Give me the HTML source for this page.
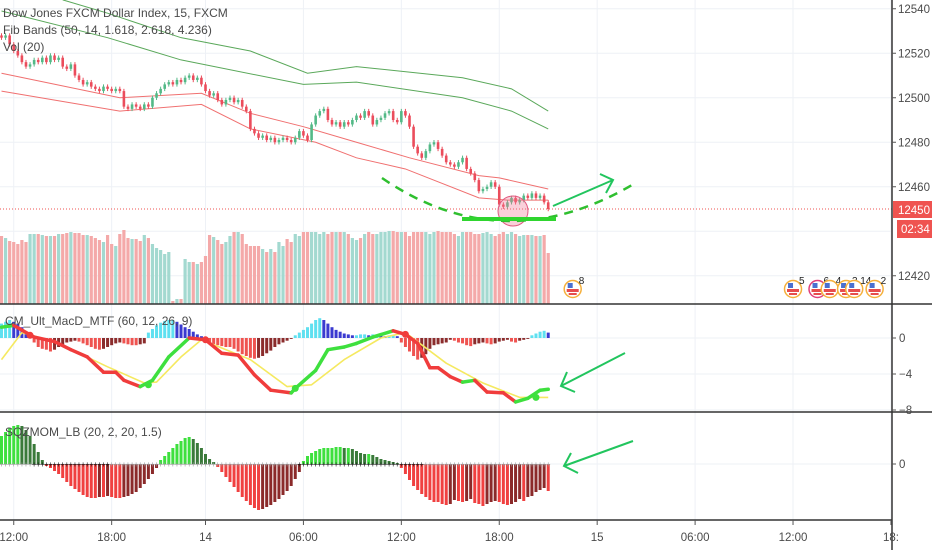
<!DOCTYPE html>
<html><head><meta charset="utf-8"><style>
html,body{margin:0;padding:0;background:#fff;}
svg{display:block;font-family:"Liberation Sans",sans-serif;}
</style></head><body>
<svg id="c" width="932" height="550" viewBox="0 0 932 550" xmlns="http://www.w3.org/2000/svg">
<rect x="0" y="0" width="932" height="550" fill="#ffffff"/>
<g id="grid"></g>
<g id="bands"></g>
<g id="vol"></g>
<g id="candles"></g>
<g id="hist"></g>
<g id="macd"></g>
<g id="sqz"></g>
<g id="anno">
  <line x1="0" y1="209" x2="892" y2="209" stroke="#ef5350" stroke-width="1" stroke-dasharray="1,2"/>
  <circle cx="513" cy="211" r="15" fill="rgba(240,120,150,0.35)" stroke="#e05a80" stroke-width="1"/>
  <path d="M382,178 Q505,262 637,182" fill="none" stroke="#2fbf2f" stroke-width="2.5" stroke-dasharray="9,7"/>
  <line x1="462" y1="219" x2="556" y2="219" stroke="#2fd52f" stroke-width="4"/>
  <path d="M553,206 L613,180 M600,174 L613,180 L606,193" fill="none" stroke="#22c55e" stroke-width="2"/>
  <path d="M625,353 L561,386 M567,372 L561,386 L575,392" fill="none" stroke="#22c55e" stroke-width="2"/>
  <path d="M633,441 L564,466 M571,453 L564,466 L578,473" fill="none" stroke="#22c55e" stroke-width="2"/>
</g>
<g id="events"></g>
<g>
  <line x1="0" y1="304" x2="932" y2="304" stroke="#333" stroke-width="1.5"/>
  <line x1="0" y1="412" x2="932" y2="412" stroke="#333" stroke-width="1.5"/>
  <line x1="0" y1="520" x2="892" y2="520" stroke="#333" stroke-width="1.5"/>
  <line x1="892" y1="0" x2="892" y2="550" stroke="#333" stroke-width="1.5"/>
</g>
<g id="axes"></g>
<g font-size="12" fill="#4a4a4a">
  <text x="3" y="17">Dow Jones FXCM Dollar Index, 15, FXCM</text>
  <text x="3" y="34">Fib Bands (50, 14, 1.618, 2.618, 4.236)</text>
  <text x="3" y="51">Vol (20)</text>
  <text x="5" y="325">CM_Ult_MacD_MTF (60, 12, 26, 9)</text>
  <text x="5" y="436">SQZMOM_LB (20, 2, 20, 1.5)</text>
</g>
<g>
  <rect x="893" y="201" width="39" height="17" fill="#ef5350"/>
  <text x="898" y="214" font-size="11.5" fill="#fff">12450</text>
  <rect x="897" y="220" width="35" height="18" fill="#ef5350"/>
  <text x="901" y="233" font-size="11.5" fill="#fff">02:34</text>
</g>
</svg>
<script>
// ---- data ----
const closes = [12527,12528,12524,12521,12519,12516,12514,12515,12517,12516,
12518,12516,12519,12517,12518,12514,12513,12515,12510,12508,
12506,12507,12505,12504,12503,12505,12504,12503,12504,12503,
12496,12495,12497,12496,12495,12497,12496,12500,12502,12504,
12506,12507,12506,12508,12507,12509,12510,12508,12509,12506,
12503,12501,12502,12499,12497,12499,12500,12498,12499,12496,
12494,12486,12484,12482,12483,12481,12482,12480,12481,12482,
12481,12480,12482,12485,12483,12481,12488,12492,12494,12495,
12490,12488,12489,12487,12489,12488,12490,12492,12491,12494,
12492,12488,12490,12491,12493,12494,12490,12489,12494,12492,
12487,12478,12475,12473,12476,12479,12480,12477,12474,12471,
12470,12469,12471,12473,12468,12466,12463,12458,12459,12460,
12462,12460,12452,12451,12453,12455,12453,12454,12456,12455,
12457,12455,12456,12453,12450];
const volumes = [68,66,63,62,60,64,62,70,70,70,
69,68,68,68,70,70,71,72,71,71,
69,69,68,66,64,62,69,60,58,70,
74,66,65,65,63,69,66,60,56,54,
50,52,3,5,5,45,42,42,40,42,
48,69,67,64,60,62,68,72,72,70,
60,58,58,58,55,52,55,52,62,58,
65,62,70,68,72,72,72,72,70,72,
70,72,72,72,72,70,66,64,66,70,
72,70,70,72,72,73,73,72,72,72,
68,72,72,72,72,70,72,73,72,72,
72,70,68,72,72,72,70,70,71,72,
70,68,70,72,70,72,70,68,69,69,
69,68,68,69,51];
const redUpperIdx = [0,29,49,61,74,87,100,117,122,134];
const redUpperVal = [12511,12500,12502,12493,12487,12480,12473,12465,12464,12459];
const redLowerIdx = [0,29,49,61,77,87,99,117,124,134];
const redLowerVal = [12503,12494,12497,12486,12480,12473,12468,12455,12454,12454];
const greenUpperIdx = [15,26,44,61,75,87,113,125,134];
const greenUpperVal = [12544,12538,12527,12521,12511,12514,12509,12504,12494];
const greenLowerIdx = [0,26,44,74,87,113,125,134];
const greenLowerVal = [12539,12527,12517,12506,12507,12500,12494,12486];
const histVals = [1.6,1.8,2.0,1.8,1.6,1.2,0.6,0.3,
-0.5,-1.0,-1.2,-1.3,-1.5,-1.3,-1.0,-0.8,-0.5,-0.4,-0.3,-0.4,-0.6,-0.8,-1.0,-1.2,-1.3,-1.2,-1.0,-0.8,-0.6,-0.5,-0.6,-0.7,-0.8,-0.8,-0.7,-0.6,
0.6,1.0,1.4,1.7,1.9,2.0,2.0,1.8,1.5,1.2,1.0,0.7,0.4,0.2,
-0.3,-0.5,-0.7,-0.8,-0.9,-1.0,-1.0,-1.2,-1.5,-1.8,-2.0,-2.2,-2.3,-2.2,-2.0,-1.7,-1.4,-1.0,-0.7,-0.5,-0.3,-0.1,
0.3,0.6,0.9,1.2,1.6,2.0,2.2,2.0,1.6,1.2,0.9,0.7,0.5,0.4,
0.3,0.3,0.4,0.4,0.3,0.4,0.4,0.3,0.2,0.3,0.3,0.2,
-0.5,-1.0,-1.5,-2.0,-2.4,-2.2,-1.8,-1.2,-0.8,-0.7,-0.6,-0.5,
-0.2,-0.3,-0.5,-0.6,-0.8,-0.9,-0.7,-0.6,-0.5,-0.6,-0.7,-0.6,-0.4,-0.3,-0.2,-0.4,-0.5,-0.3,-0.2,-0.1,
0.3,0.5,0.7,0.8,0.6];
const macdIdx = [0,3,8,13,17,21,25,28,30,34,37,41,46,50,54,58,62,66,71,72,77,80,84,87,91,96,99,102,105,107,110,113,116,119,123,126,129,132,134];
const macdVal = [1.2,1.4,0.1,-0.4,-1.3,-2.1,-3.8,-3.8,-4.7,-5.4,-4.7,-2.1,0,-0.2,-1.7,-1.9,-4.1,-5.8,-6.1,-5.6,-3.6,-1.3,-1.0,-0.6,0.1,0.8,0.4,-0.6,-3.3,-3.3,-4.3,-4.9,-4.7,-6.0,-6.1,-7.1,-6.7,-5.8,-5.7];
const sigIdx = [0,5,13,26,35,38,44,49,61,70,76,84,93,99,109,118,127,134];
const sigVal = [-2.4,0.6,-0.4,-3.2,-5.0,-4.9,-2.1,-0.2,-2.4,-5.4,-5.2,-2.4,0,0.6,-2.8,-5.0,-6.6,-6.6];
const crossIdx = [7,36,50,72,99,131];
const crossVal = [0.3,-5.2,-0.2,-5.6,0.4,-6.6];
const crossUp = [false,true,false,true,false,true];
const sqzVals = [28,32,36,38,39,38,34,28,20,12,4,
-2,-4,-7,-10,-14,-18,-22,-25,-28,-31,-33,-34,-34,-33,-33,-32,-33,-34,-34,-33,-32,-30,-28,-24,-20,-15,-10,-4,
4,8,12,16,20,23,26,27,25,21,16,10,5,2,
-3,-8,-13,-18,-23,-28,-33,-37,-41,-44,-46,-45,-43,-41,-38,-35,-31,-27,-22,-15,-8,
3,8,11,13,15,16,16,16,17,17,16,16,15,13,11,10,10,9,7,5,4,3,2,1,
-4,-10,-16,-22,-26,-30,-33,-36,-38,-38,-40,-41,-40,-36,-37,-38,-37,-35,-39,-40,-42,-40,-38,-37,-38,-40,-41,-40,-38,-35,-37,-33,-32,-28,-26,-24,-27];
const squeezeOnFrom = [8,73];
const squeezeOnTo = [26,103];
const priceTicks = [12540,12520,12500,12480,12460,12440,12420];
const priceTickLabels = ["12540","12520","12500","12480","12460","","12420"];
const macdTicks = [0,-4,-8];
const macdTickLabels = ["0","−4","−8"];
const timeLabels = ["12:00","18:00","14","06:00","12:00","18:00","15","06:00","12:00","18:"];
const timeLabelBar = [3,27,50,74,98,122,146,170,194,218];
const eventBar = [140,194,200,203,207,209,214];
const eventNum = ["8","5","6","4","3","14","2"];

// ---- scales ----
const NS = "http://www.w3.org/2000/svg";
const bx = i => 1.5 + i*4.08;
const py = p => 209 - (p-12450)*2.225;
const vy = v => 304 - v;
const my = v => 338 - v*9;
const sy = v => 464 - v;
function mk(tag, attrs, parent){const e=document.createElementNS(NS,tag);for(const k in attrs)e.setAttribute(k,attrs[k]);parent.appendChild(e);return e;}
const $ = id => document.getElementById(id);

// grid
const grid=$("grid");
timeLabelBar.forEach((b,k)=>{const gl=mk("line",{x1:bx(b),x2:bx(b),y1:0,y2:520,stroke:"#eef1f6","stroke-width":1},grid);

});
priceTicks.forEach(p=>{const gl=mk("line",{x1:0,x2:892,y1:py(p),y2:py(p),stroke:"#eef1f6","stroke-width":1},grid);

});
macdTicks.forEach(v=>{const gl=mk("line",{x1:0,x2:892,y1:my(v),y2:my(v),stroke:"#eef1f6","stroke-width":1},grid);

});
{const gl=mk("line",{x1:0,x2:892,y1:sy(0),y2:sy(0),stroke:"#eef1f6","stroke-width":1},grid);

}

// bands
function poly(idx,vals,color,name){const pts=idx.map((b,k)=>bx(b)+","+py(vals[k])).join(" ");
const e=mk("polyline",{points:pts,fill:"none",stroke:color,"stroke-width":1},$("bands"));

}
poly(redUpperIdx,redUpperVal,"#f07070","band-red-upper");
poly(redLowerIdx,redLowerVal,"#f07070","band-red-lower");
poly(greenUpperIdx,greenUpperVal,"#5aa85a","band-green-upper");
poly(greenLowerIdx,greenLowerVal,"#5aa85a","band-green-lower");

// volume & candles
closes.forEach((c,i)=>{
  const o = i>0?closes[i-1]:c+1;
  const up = c>=o;
  const v=mk("rect",{x:bx(i)-1.6,y:vy(volumes[i]),width:3.2,height:volumes[i],fill:up?"#a3d9d0":"#f4a9a9"},$("vol"));
  
  
  const col = up?"#53b987":"#eb4d5c";
  const hi=Math.max(o,c)+1, lo=Math.min(o,c)-1;
  const w=mk("line",{x1:bx(i),x2:bx(i),y1:py(hi),y2:py(lo),stroke:col,"stroke-width":1},$("candles"));
  
  
  const top=py(Math.max(o,c)), h=Math.max(1,Math.abs(py(o)-py(c)));
  const r=mk("rect",{x:bx(i)-1.3,y:top,width:2.6,height:h,fill:col},$("candles"));
  
  
});

// macd histogram
histVals.forEach((v,i)=>{
  const prev=i>0?histVals[i-1]:v;
  let col;
  if(v>=0) col = v>=prev?"#5ee0f0":"#3a3ad0"; else col = v<=prev?"#ef5350":"#8b2c2c";
  const y0=my(0), y1=my(v);
  const r=mk("rect",{x:bx(i)-1.5,y:Math.min(y0,y1),width:3,height:Math.max(0.8,Math.abs(y1-y0)),fill:col},$("hist"));
  
  
});
// signal
{const pts=sigIdx.map((b,k)=>bx(b)+","+my(sigVal[k])).join(" ");
const s=mk("polyline",{points:pts,fill:"none",stroke:"#f5e960","stroke-width":1.6,"stroke-linejoin":"round"},$("macd"));

}
// macd
for(let k=0;k<macdIdx.length-1;k++){
  const rising=macdVal[k+1]>macdVal[k];
  const l=mk("line",{x1:bx(macdIdx[k]),y1:my(macdVal[k]),x2:bx(macdIdx[k+1]),y2:my(macdVal[k+1]),stroke:rising?"#3ee03e":"#f03c3c","stroke-width":3.5,"stroke-linecap":"round"},$("macd"));
  
  
}
crossIdx.forEach((b,k)=>{const d=mk("circle",{cx:bx(b),cy:my(crossVal[k]),r:3.5,fill:crossUp[k]?"#3ee03e":"#f03c3c"},$("macd"));

});

// sqz
sqzVals.forEach((v,i)=>{
  const prev=i>0?sqzVals[i-1]:v;
  let col;
  if(v>=0) col=v>=prev?"#3ee03e":"#3a7a3a"; else col=v<=prev?"#f04040":"#8b2a2a";
  const y0=sy(0),y1=sy(v);
  const r=mk("rect",{x:bx(i)-1.5,y:Math.min(y0,y1),width:3,height:Math.max(0.8,Math.abs(y1-y0)),fill:col},$("sqz"));
  
  
  let on=false; squeezeOnFrom.forEach((f,k)=>{if(i>=f&&i<=squeezeOnTo[k])on=true;});
  const d=mk("text",{x:bx(i),y:sy(0)+3,"font-size":8,"text-anchor":"middle",fill:on?"#111":"#999"},$("sqz"));
  d.textContent="+";
  
  
});

// axes labels
const ax=$("axes");
priceTicks.forEach((p,k)=>{ if(!priceTickLabels[k])return;
  const t=mk("line",{x1:892,x2:896,y1:py(p),y2:py(p),stroke:"#555"},ax);
  
  
  const tx=mk("text",{x:898,y:py(p)+4,"font-size":11.5,fill:"#4a4a4a"},ax);tx.textContent=priceTickLabels[k];
  
  });
macdTicks.forEach((v,k)=>{
  const t=mk("line",{x1:892,x2:896,y1:my(v),y2:my(v),stroke:"#555"},ax);
  
  
  const tx=mk("text",{x:899,y:my(v)+4,"font-size":11.5,fill:"#4a4a4a"},ax);tx.textContent=macdTickLabels[k];
  
  });
{const t=mk("line",{x1:892,x2:896,y1:sy(0),y2:sy(0),stroke:"#555"},ax);


const tx=mk("text",{x:899,y:sy(0)+4,"font-size":11.5,fill:"#4a4a4a"},ax);tx.textContent="0";

}
timeLabels.forEach((s,k)=>{const x=bx(timeLabelBar[k]);
  const t=mk("line",{x1:x,x2:x,y1:520,y2:525,stroke:"#555"},ax);
  
  
  const tx=mk("text",{x:x,y:541,"font-size":11.5,fill:"#4a4a4a","text-anchor":"middle"},ax);tx.textContent=s;
  
  });

// events
eventBar.forEach((b,k)=>{const x=bx(b);const g=mk("g",{},$("events"));
  
  
  mk("circle",{cx:x,cy:289,r:8.5,fill:"#fff",stroke:k==2?"#e0407a":"#f5b03c","stroke-width":1.5},g);
  mk("rect",{x:x-6,y:289,width:12,height:3,fill:"#e74c4c"},g);
  mk("rect",{x:x-5,y:283,width:5,height:5,fill:"#4a6fd0"},g);
  mk("rect",{x:x-4,y:293,width:8,height:2,fill:"#e74c4c"},g);
  const t=mk("text",{x:x+6,y:284,"font-size":10,fill:"#222"},g);t.textContent=eventNum[k];
});
</script>
</body></html>
